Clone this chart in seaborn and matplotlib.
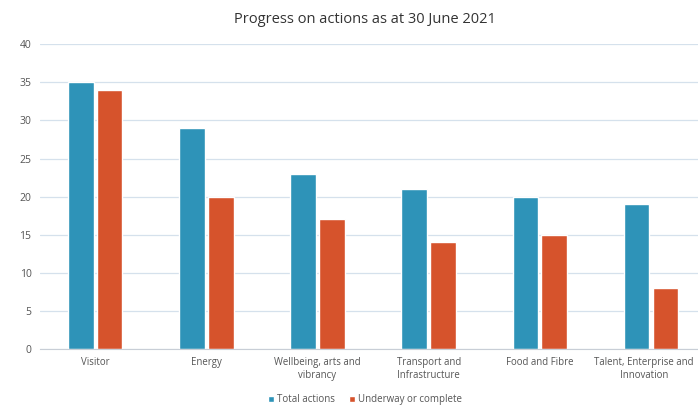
import pandas as pd
import matplotlib.pyplot as plt
import matplotlib.transforms as mtransforms
import seaborn as sns

categories = ['Visitor', 'Energy', 'Wellbeing, arts and\nvibrancy', 'Transport and\nInfrastructure',
              'Food and Fibre', 'Talent, Enterprise and\nInnovation']
total_actions = [35, 29, 23, 21, 20, 19]
underway = [34, 20, 17, 14, 15, 8]
series = ['Total actions', 'Underway or complete']

df = pd.DataFrame({
    'category': categories * 2,
    'value': total_actions + underway,
    'series': [series[0]] * len(categories) + [series[1]] * len(categories),
})

sns.set_style('white')
plt.rcParams['font.family'] = ['Open Sans', 'DejaVu Sans']

fig = plt.figure(figsize=(6.98, 4.05), dpi=100)
ax = fig.add_axes([0.057, 0.138, 0.955, 0.753])

sns.barplot(data=df, x='category', y='value', hue='series', order=categories,
            palette=['#2E93B8', '#D6532C'], width=0.52, gap=0.12, saturation=1,
            ax=ax, legend=True)

ax.set_ylim(0, 40)
ax.set_yticks(range(0, 41, 5))
ax.set_xlim(-0.5, 5.5)
ax.yaxis.grid(True, color='#D5E1EC', linewidth=0.9)
ax.set_axisbelow(True)
for s in ['top', 'right', 'left']:
    ax.spines[s].set_visible(False)
ax.spines['bottom'].set_color('#C8CED6')
ax.tick_params(axis='y', length=0, labelsize=7.5, labelcolor='#555555', pad=6)
ax.tick_params(axis='x', length=0, labelsize=6.9, labelcolor='#555555', pad=6)
ax.set_xlabel('')
ax.set_ylabel('')

# last label sits right at the edge of the (cropped) chart
last = ax.get_xticklabels()[-1]
last.set_transform(last.get_transform() + mtransforms.ScaledTranslation(-5 / 72, 0, fig.dpi_scale_trans))

fig.suptitle('Progress on actions as at 30 June 2021', x=0.523, y=0.97, fontsize=10.5, color='#333333')

ax.legend(loc='upper center', bbox_to_anchor=(0.5 - 0.012, -0.12), ncol=2, frameon=False,
          fontsize=7, handlelength=0.6, handleheight=0.6, columnspacing=1.5, handletextpad=0.3,
          labelcolor='#555555')

fig.savefig('out.png', dpi=100)
